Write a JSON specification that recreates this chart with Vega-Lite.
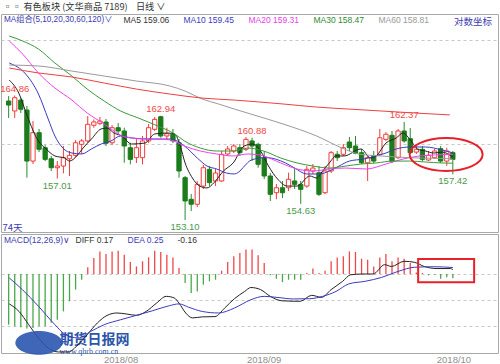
{
"$schema":"https://vega.github.io/schema/vega-lite/v6.json",
"background":"white",
"padding":{"left":0,"right":3,"top":3,"bottom":0},
"title":{"text":"▫▫ 有色板块 (文华商品 7189)\u00a0\u00a0\u00a0\u00a0日线 ∨","anchor":"start","frame":"group","fontSize":9.2,"fontWeight":"normal","color":"#333333","font":"Noto Sans CJK SC","offset":1,"dx":2,"baseline":"top"},
"spacing":0,
"resolve":{"scale":{"color":"independent"},"legend":{"color":"independent"}},
"config":{"view":{"stroke":"#a8a8a8"},"font":"Liberation Sans"},
"datasets":{
"k":[
{"d":0,"o":164.34,"h":164.81,"l":162.74,"c":163.96,"m":-1.95},
{"d":1,"o":163.40,"h":164.86,"l":162.74,"c":164.65,"m":-2.01},
{"d":2,"o":164.43,"h":164.62,"l":163.21,"c":163.56,"m":-2.05},
{"d":3,"o":163.49,"h":163.87,"l":157.10,"c":158.67,"m":-2.10},
{"d":4,"o":158.67,"h":162.45,"l":158.39,"c":161.35,"m":-2.08},
{"d":5,"o":161.35,"h":161.70,"l":159.52,"c":159.78,"m":-2.01},
{"d":6,"o":159.93,"h":160.18,"l":158.67,"c":158.83,"m":-2.01},
{"d":7,"o":158.89,"h":159.15,"l":157.73,"c":158.04,"m":-1.88},
{"d":8,"o":158.04,"h":158.67,"l":157.01,"c":158.20,"m":-1.76},
{"d":9,"o":158.20,"h":160.09,"l":157.51,"c":158.99,"m":-1.44},
{"d":10,"o":158.89,"h":159.62,"l":157.26,"c":159.21,"m":-1.05},
{"d":11,"o":159.21,"h":160.66,"l":159.05,"c":160.40,"m":-0.60},
{"d":12,"o":160.25,"h":160.75,"l":159.34,"c":160.57,"m":-0.22},
{"d":13,"o":160.57,"h":162.92,"l":160.40,"c":162.14,"m":0.26},
{"d":14,"o":162.05,"h":162.61,"l":161.82,"c":162.36,"m":0.62},
{"d":15,"o":162.23,"h":162.83,"l":162.07,"c":162.45,"m":0.87},
{"d":16,"o":162.36,"h":162.64,"l":160.09,"c":160.35,"m":0.77},
{"d":17,"o":160.40,"h":162.07,"l":160.18,"c":161.82,"m":0.87},
{"d":18,"o":161.82,"h":162.26,"l":161.20,"c":161.51,"m":0.90},
{"d":19,"o":161.51,"h":161.82,"l":158.51,"c":160.09,"m":0.74},
{"d":20,"o":159.93,"h":160.40,"l":158.36,"c":158.83,"m":0.46},
{"d":21,"o":158.99,"h":160.75,"l":158.49,"c":159.93,"m":0.29},
{"d":22,"o":158.99,"h":161.04,"l":158.36,"c":160.57,"m":0.49},
{"d":23,"o":160.57,"h":162.17,"l":160.37,"c":161.82,"m":0.64},
{"d":24,"o":161.67,"h":162.83,"l":161.51,"c":162.61,"m":0.90},
{"d":25,"o":162.86,"h":162.94,"l":160.87,"c":161.04,"m":0.85},
{"d":26,"o":161.04,"h":161.82,"l":160.72,"c":161.25,"m":0.74},
{"d":27,"o":161.20,"h":161.70,"l":160.37,"c":160.57,"m":0.64},
{"d":28,"o":160.40,"h":160.75,"l":157.10,"c":157.73,"m":0.23},
{"d":29,"o":157.10,"h":157.26,"l":153.10,"c":154.90,"m":-0.35},
{"d":30,"o":155.06,"h":155.56,"l":153.95,"c":154.59,"m":-0.73},
{"d":31,"o":154.59,"h":156.79,"l":154.33,"c":156.47,"m":-0.67},
{"d":32,"o":156.31,"h":158.30,"l":156.03,"c":158.04,"m":-0.41},
{"d":33,"o":157.89,"h":158.20,"l":156.31,"c":156.63,"m":-0.28},
{"d":34,"o":156.79,"h":157.92,"l":156.31,"c":157.54,"m":-0.22},
{"d":35,"o":156.79,"h":159.62,"l":156.69,"c":159.31,"m":0.13},
{"d":36,"o":159.34,"h":160.09,"l":159.15,"c":159.81,"m":0.46},
{"d":37,"o":159.62,"h":160.28,"l":159.43,"c":160.09,"m":0.68},
{"d":38,"o":159.93,"h":160.28,"l":159.15,"c":159.46,"m":0.81},
{"d":39,"o":159.78,"h":160.94,"l":159.62,"c":160.72,"m":0.94},
{"d":40,"o":160.57,"h":160.88,"l":158.67,"c":160.09,"m":0.94},
{"d":41,"o":160.25,"h":160.40,"l":158.04,"c":158.36,"m":0.72},
{"d":42,"o":158.99,"h":159.62,"l":156.97,"c":157.26,"m":0.42},
{"d":43,"o":157.26,"h":157.54,"l":154.90,"c":155.53,"m":-0.05},
{"d":44,"o":155.68,"h":156.50,"l":155.06,"c":156.15,"m":-0.18},
{"d":45,"o":156.15,"h":156.79,"l":155.18,"c":155.68,"m":-0.31},
{"d":46,"o":156.15,"h":157.57,"l":155.84,"c":156.95,"m":-0.22},
{"d":47,"o":156.79,"h":158.04,"l":156.03,"c":156.47,"m":-0.22},
{"d":48,"o":156.47,"h":156.79,"l":154.63,"c":156.00,"m":-0.22},
{"d":49,"o":156.31,"h":158.20,"l":156.15,"c":157.89,"m":0.04},
{"d":50,"o":157.73,"h":158.39,"l":157.45,"c":158.01,"m":0.21},
{"d":51,"o":157.57,"h":158.20,"l":155.37,"c":155.53,"m":0.04},
{"d":52,"o":155.68,"h":158.20,"l":155.56,"c":157.73,"m":0.13},
{"d":53,"o":157.73,"h":159.62,"l":157.54,"c":159.46,"m":0.49},
{"d":54,"o":159.31,"h":159.62,"l":158.67,"c":158.99,"m":0.64},
{"d":55,"o":159.31,"h":160.28,"l":159.15,"c":159.93,"m":0.68},
{"d":56,"o":160.47,"h":160.94,"l":159.62,"c":159.93,"m":0.87},
{"d":57,"o":160.09,"h":161.04,"l":159.31,"c":159.40,"m":0.85},
{"d":58,"o":159.46,"h":159.81,"l":158.39,"c":158.51,"m":0.59},
{"d":59,"o":158.51,"h":159.15,"l":156.79,"c":158.99,"m":0.55},
{"d":60,"o":159.15,"h":159.62,"l":158.49,"c":158.67,"m":0.29},
{"d":61,"o":159.31,"h":161.70,"l":159.15,"c":160.87,"m":0.64},
{"d":62,"o":160.72,"h":161.41,"l":160.57,"c":161.20,"m":0.77},
{"d":63,"o":161.10,"h":161.51,"l":158.49,"c":158.67,"m":0.49},
{"d":64,"o":158.99,"h":161.70,"l":158.86,"c":161.51,"m":0.64},
{"d":65,"o":161.51,"h":162.37,"l":160.40,"c":160.57,"m":0.59},
{"d":66,"o":160.78,"h":161.79,"l":159.34,"c":159.46,"m":0.42},
{"d":67,"o":159.52,"h":160.09,"l":159.34,"c":159.78,"m":0.06},
{"d":68,"o":159.78,"h":160.09,"l":158.67,"c":158.83,"m":0.04},
{"d":69,"o":158.77,"h":159.62,"l":158.67,"c":159.21,"m":-0.05},
{"d":70,"o":158.99,"h":159.81,"l":158.86,"c":159.62,"m":-0.03},
{"d":71,"o":159.84,"h":160.09,"l":158.49,"c":158.67,"m":-0.18},
{"d":72,"o":158.67,"h":159.93,"l":158.20,"c":159.62,"m":-0.12},
{"d":73,"o":159.46,"h":159.62,"l":157.42,"c":158.83,"m":-0.16}
],
"ma":[
{"s":"MA5","d":0.1,"v":166.32},{"s":"MA5","d":1.66,"v":165.10},{"s":"MA5","d":3.06,"v":162.92},{"s":"MA5","d":4.88,"v":160.56},{"s":"MA5","d":6.0,"v":159.90},{"s":"MA5","d":7.6,"v":159.15},{"s":"MA5","d":9.2,"v":158.96},{"s":"MA5","d":10.0,"v":158.67},{"s":"MA5","d":11.2,"v":159.15},{"s":"MA5","d":12.1,"v":159.81},{"s":"MA5","d":13.6,"v":160.75},{"s":"MA5","d":15.2,"v":161.70},{"s":"MA5","d":16.2,"v":161.79},{"s":"MA5","d":17.3,"v":161.32},{"s":"MA5","d":18.6,"v":161.04},{"s":"MA5","d":20.2,"v":160.28},{"s":"MA5","d":22.4,"v":160.37},{"s":"MA5","d":24.0,"v":161.23},{"s":"MA5","d":26.1,"v":161.32},{"s":"MA5","d":27.3,"v":161.23},{"s":"MA5","d":28.2,"v":160.09},{"s":"MA5","d":29.0,"v":158.49},{"s":"MA5","d":30.2,"v":157.07},{"s":"MA5","d":31.4,"v":156.31},{"s":"MA5","d":32.6,"v":156.13},{"s":"MA5","d":33.7,"v":156.60},{"s":"MA5","d":35.3,"v":157.73},{"s":"MA5","d":36.9,"v":158.49},{"s":"MA5","d":38.7,"v":160.09},{"s":"MA5","d":40.1,"v":160.28},{"s":"MA5","d":41.4,"v":159.62},{"s":"MA5","d":42.7,"v":158.20},{"s":"MA5","d":44.2,"v":156.97},{"s":"MA5","d":45.8,"v":156.31},{"s":"MA5","d":47.4,"v":156.31},{"s":"MA5","d":49.5,"v":157.26},{"s":"MA5","d":50.6,"v":157.07},{"s":"MA5","d":51.6,"v":157.73},{"s":"MA5","d":52.7,"v":158.49},{"s":"MA5","d":53.8,"v":159.15},{"s":"MA5","d":55.1,"v":159.15},{"s":"MA5","d":57.9,"v":159.81},{"s":"MA5","d":59.5,"v":158.96},{"s":"MA5","d":60.4,"v":159.15},{"s":"MA5","d":62.0,"v":160.37},{"s":"MA5","d":63.7,"v":160.85},{"s":"MA5","d":64.8,"v":161.32},{"s":"MA5","d":65.9,"v":160.75},{"s":"MA5","d":67.2,"v":159.81},{"s":"MA5","d":68.5,"v":159.62},{"s":"MA5","d":69.9,"v":159.43},{"s":"MA5","d":71.2,"v":159.52},{"s":"MA5","d":73,"v":159.06},
{"s":"MA10","d":0.1,"v":167.93},{"s":"MA10","d":2.8,"v":166.89},{"s":"MA10","d":4.9,"v":165.00},{"s":"MA10","d":6.5,"v":162.64},{"s":"MA10","d":7.6,"v":161.04},{"s":"MA10","d":8.9,"v":159.90},{"s":"MA10","d":10.4,"v":159.43},{"s":"MA10","d":12.0,"v":159.34},{"s":"MA10","d":13.6,"v":159.81},{"s":"MA10","d":15.2,"v":160.28},{"s":"MA10","d":16.8,"v":160.56},{"s":"MA10","d":18.4,"v":161.04},{"s":"MA10","d":20.2,"v":160.85},{"s":"MA10","d":23.4,"v":160.75},{"s":"MA10","d":26.6,"v":160.75},{"s":"MA10","d":28.9,"v":160.09},{"s":"MA10","d":31.0,"v":158.96},{"s":"MA10","d":32.6,"v":158.20},{"s":"MA10","d":34.2,"v":157.92},{"s":"MA10","d":35.8,"v":157.54},{"s":"MA10","d":37.1,"v":157.45},{"s":"MA10","d":40.0,"v":158.80},{"s":"MA10","d":42.3,"v":159.0},{"s":"MA10","d":45.5,"v":158.49},{"s":"MA10","d":47.0,"v":158.01},{"s":"MA10","d":49.0,"v":157.45},{"s":"MA10","d":51.1,"v":157.45},{"s":"MA10","d":52.7,"v":157.73},{"s":"MA10","d":54.3,"v":158.20},{"s":"MA10","d":56.0,"v":158.67},{"s":"MA10","d":58.3,"v":158.86},{"s":"MA10","d":60.4,"v":159.15},{"s":"MA10","d":62.0,"v":159.43},{"s":"MA10","d":63.7,"v":159.81},{"s":"MA10","d":66.0,"v":160.0},{"s":"MA10","d":68.5,"v":160.0},{"s":"MA10","d":71.2,"v":159.72},{"s":"MA10","d":73,"v":159.45},
{"s":"MA20","d":0.1,"v":170.01},{"s":"MA20","d":2.3,"v":168.78},{"s":"MA20","d":4.9,"v":166.99},{"s":"MA20","d":7.6,"v":165.57},{"s":"MA20","d":10.4,"v":164.43},{"s":"MA20","d":12.9,"v":163.21},{"s":"MA20","d":15.7,"v":162.17},{"s":"MA20","d":17.3,"v":161.51},{"s":"MA20","d":18.6,"v":161.04},{"s":"MA20","d":20.2,"v":160.85},{"s":"MA20","d":22.4,"v":160.75},{"s":"MA20","d":24.5,"v":160.75},{"s":"MA20","d":26.6,"v":160.66},{"s":"MA20","d":28.9,"v":160.09},{"s":"MA20","d":31.5,"v":159.62},{"s":"MA20","d":34.2,"v":159.34},{"s":"MA20","d":36.9,"v":159.15},{"s":"MA20","d":39.3,"v":159.34},{"s":"MA20","d":41.9,"v":159.15},{"s":"MA20","d":44.7,"v":158.49},{"s":"MA20","d":47.4,"v":157.92},{"s":"MA20","d":50.0,"v":157.73},{"s":"MA20","d":52.7,"v":157.92},{"s":"MA20","d":55.4,"v":158.01},{"s":"MA20","d":58.8,"v":157.92},{"s":"MA20","d":62.0,"v":158.39},{"s":"MA20","d":64.8,"v":158.86},{"s":"MA20","d":67.5,"v":159.15},{"s":"MA20","d":70.1,"v":159.25},{"s":"MA20","d":73,"v":159.31},
{"s":"MA30","d":0.1,"v":170.48},{"s":"MA30","d":2.3,"v":170.01},{"s":"MA30","d":4.9,"v":169.25},{"s":"MA30","d":7.6,"v":167.93},{"s":"MA30","d":10.4,"v":166.70},{"s":"MA30","d":12.9,"v":165.47},{"s":"MA30","d":15.7,"v":164.34},{"s":"MA30","d":18.4,"v":163.40},{"s":"MA30","d":21.3,"v":162.74},{"s":"MA30","d":24.5,"v":161.98},{"s":"MA30","d":27.3,"v":161.23},{"s":"MA30","d":28.9,"v":160.56},{"s":"MA30","d":31.5,"v":159.90},{"s":"MA30","d":34.2,"v":159.62},{"s":"MA30","d":37.1,"v":159.62},{"s":"MA30","d":39.3,"v":159.90},{"s":"MA30","d":41.9,"v":159.62},{"s":"MA30","d":44.7,"v":158.96},{"s":"MA30","d":47.4,"v":158.49},{"s":"MA30","d":50.0,"v":158.20},{"s":"MA30","d":52.7,"v":158.01},{"s":"MA30","d":55.4,"v":158.20},{"s":"MA30","d":57.9,"v":158.39},{"s":"MA30","d":60.4,"v":158.49},{"s":"MA30","d":63.2,"v":158.67},{"s":"MA30","d":65.9,"v":158.67},{"s":"MA30","d":68.5,"v":158.58},{"s":"MA30","d":71.2,"v":158.49},{"s":"MA30","d":73,"v":158.47},
{"s":"MA60","d":0.1,"v":167.74},{"s":"MA60","d":4.9,"v":167.65},{"s":"MA60","d":10.4,"v":167.17},{"s":"MA60","d":15.7,"v":166.70},{"s":"MA60","d":21.0,"v":166.23},{"s":"MA60","d":26.5,"v":165.76},{"s":"MA60","d":29.0,"v":165.28},{"s":"MA60","d":31.8,"v":164.53},{"s":"MA60","d":34.5,"v":164.06},{"s":"MA60","d":37.1,"v":163.58},{"s":"MA60","d":39.8,"v":163.11},{"s":"MA60","d":45.1,"v":162.17},{"s":"MA60","d":50.6,"v":161.04},{"s":"MA60","d":54.8,"v":159.90},{"s":"MA60","d":57.5,"v":159.34},{"s":"MA60","d":61.2,"v":159.15},{"s":"MA60","d":67.2,"v":158.96},{"s":"MA60","d":72.0,"v":158.91},{"s":"MA60","d":73,"v":158.81},
{"s":"MA120","d":0.1,"v":167.46},{"s":"MA120","d":4.9,"v":166.99},{"s":"MA120","d":10.4,"v":166.61},{"s":"MA120","d":15.7,"v":166.04},{"s":"MA120","d":21.0,"v":165.47},{"s":"MA120","d":26.5,"v":165.00},{"s":"MA120","d":31.8,"v":164.62},{"s":"MA120","d":37.1,"v":164.43},{"s":"MA120","d":45.1,"v":164.06},{"s":"MA120","d":50.6,"v":163.77},{"s":"MA120","d":55.9,"v":163.58},{"s":"MA120","d":61.2,"v":163.40},{"s":"MA120","d":66.7,"v":163.21},{"s":"MA120","d":72.5,"v":163.03}
],
"mc":[
{"s":"DIFF","d":0.1,"v":-1.15},{"s":"DIFF","d":1.7,"v":-1.44},{"s":"DIFF","d":3.3,"v":-1.95},{"s":"DIFF","d":4.9,"v":-2.46},{"s":"DIFF","d":6.5,"v":-2.85},{"s":"DIFF","d":8.2,"v":-3.0},{"s":"DIFF","d":9.8,"v":-3.0},{"s":"DIFF","d":11.4,"v":-2.72},{"s":"DIFF","d":13.0,"v":-2.31},{"s":"DIFF","d":14.6,"v":-1.88},{"s":"DIFF","d":16.2,"v":-1.59},{"s":"DIFF","d":17.8,"v":-1.50},{"s":"DIFF","d":19.4,"v":-1.54},{"s":"DIFF","d":21.0,"v":-1.59},{"s":"DIFF","d":22.6,"v":-1.44},{"s":"DIFF","d":24.3,"v":-1.12},{"s":"DIFF","d":25.9,"v":-0.86},{"s":"DIFF","d":27.2,"v":-0.92},{"s":"DIFF","d":28.0,"v":-1.12},{"s":"DIFF","d":29.1,"v":-1.50},{"s":"DIFF","d":30.2,"v":-1.69},{"s":"DIFF","d":31.8,"v":-1.65},{"s":"DIFF","d":33.9,"v":-1.64},{"s":"DIFF","d":35.5,"v":-1.31},{"s":"DIFF","d":37.1,"v":-0.95},{"s":"DIFF","d":38.8,"v":-0.67},{"s":"DIFF","d":39.8,"v":-0.52},{"s":"DIFF","d":41.4,"v":-0.60},{"s":"DIFF","d":43.0,"v":-0.86},{"s":"DIFF","d":44.9,"v":-1.03},{"s":"DIFF","d":47.9,"v":-1.05},{"s":"DIFF","d":49.8,"v":-0.82},{"s":"DIFF","d":51.4,"v":-0.90},{"s":"DIFF","d":53.0,"v":-0.60},{"s":"DIFF","d":54.9,"v":-0.28},{"s":"DIFF","d":56.2,"v":-0.03},{"s":"DIFF","d":58.1,"v":0.0},{"s":"DIFF","d":59.9,"v":0.0},{"s":"DIFF","d":61.8,"v":0.36},{"s":"DIFF","d":62.9,"v":0.29},{"s":"DIFF","d":65.0,"v":0.49},{"s":"DIFF","d":66.7,"v":0.45},{"s":"DIFF","d":68.3,"v":0.29},{"s":"DIFF","d":70.4,"v":0.21},{"s":"DIFF","d":72.6,"v":0.21},{"s":"DIFF","d":73,"v":0.17},
{"s":"DEA","d":0.1,"v":-0.15},{"s":"DEA","d":2.25,"v":-0.60},{"s":"DEA","d":4.9,"v":-1.24},{"s":"DEA","d":7.6,"v":-1.95},{"s":"DEA","d":9.2,"v":-2.31},{"s":"DEA","d":11.4,"v":-2.46},{"s":"DEA","d":13.5,"v":-2.21},{"s":"DEA","d":15.7,"v":-1.95},{"s":"DEA","d":18.4,"v":-1.76},{"s":"DEA","d":21.0,"v":-1.59},{"s":"DEA","d":23.7,"v":-1.41},{"s":"DEA","d":26.4,"v":-1.22},{"s":"DEA","d":28.0,"v":-1.15},{"s":"DEA","d":29.6,"v":-1.28},{"s":"DEA","d":31.8,"v":-1.44},{"s":"DEA","d":34.5,"v":-1.50},{"s":"DEA","d":37.1,"v":-1.31},{"s":"DEA","d":39.8,"v":-0.99},{"s":"DEA","d":42.0,"v":-0.86},{"s":"DEA","d":44.1,"v":-0.90},{"s":"DEA","d":46.8,"v":-0.96},{"s":"DEA","d":49.5,"v":-0.95},{"s":"DEA","d":51.6,"v":-0.86},{"s":"DEA","d":53.8,"v":-0.67},{"s":"DEA","d":55.9,"v":-0.38},{"s":"DEA","d":58.6,"v":-0.28},{"s":"DEA","d":61.3,"v":-0.13},{"s":"DEA","d":64.0,"v":0.10},{"s":"DEA","d":66.7,"v":0.26},{"s":"DEA","d":69.9,"v":0.28},{"s":"DEA","d":73,"v":0.25}
],
"hl":[
{"d":1,"p":164.86,"k":"h"},{"d":25,"p":162.94,"k":"h"},{"d":40,"p":160.88,"k":"h"},{"d":65,"p":162.37,"k":"h"},
{"d":8,"p":157.01,"k":"l"},{"d":29,"p":153.10,"k":"l"},{"d":48,"p":154.63,"k":"l"},{"d":73,"p":157.42,"k":"l"}
],
"note":[
{"k":"ellipse","d":71.9,"v":159.29},
{"k":"box","d":67.3,"d2":76.5,"v":0.58,"v2":-0.32},
{"k":"logo","d":4.96,"v":-2.65}
]
},
"vconcat":[
{
"width":497,"height":218,
"title":{"text":"对数坐标","anchor":"end","orient":"top","offset":-12,"dx":-6,"fontSize":9.5,"fontWeight":"normal","color":"#3b3bb0","font":"Noto Sans CJK SC"},
"layer":[
{"data":{"name":"k"},"mark":{"type":"rule","strokeWidth":1},
 "encoding":{
  "x":{"field":"d","type":"quantitative","scale":{"domain":[-0.435,79.6],"nice":false,"zero":false},
   "axis":{"labels":false,"ticks":false,"domain":false,"grid":false,"title":"74天","titleX":1,"titleY":-5,"titleAlign":"left","titleAnchor":"start","titleBaseline":"middle","titleFontSize":9.5,"titleFontWeight":"normal","titleColor":"#3b3bb0","titleFont":"Noto Sans CJK SC"}},
  "y":{"field":"l","type":"quantitative","scale":{"domain":[151.97,172.56],"nice":false,"zero":false},
   "axis":{"values":[160.28,170.1],"grid":true,"gridDash":[3,3],"gridColor":"#c8c8c8","labels":false,"ticks":false,"domain":false,"title":null}},
  "y2":{"field":"h"},
  "color":{"condition":{"test":"datum.c>=datum.o","value":"#f03c3c"},"value":"#2a8a2a"}}},
{"data":{"name":"k"},"mark":{"type":"bar","width":4.3,"strokeWidth":1},
 "encoding":{
  "x":{"field":"d","type":"quantitative","scale":{"domain":[-0.435,79.6],"nice":false,"zero":false}},
  "y":{"field":"o","type":"quantitative","scale":{"domain":[151.97,172.56],"nice":false,"zero":false}},
  "y2":{"field":"c"},
  "fill":{"condition":{"test":"datum.c>=datum.o","value":"#ffffff"},"value":"#1c7c1c"},
  "stroke":{"condition":{"test":"datum.c>=datum.o","value":"#f03c3c"},"value":"#1c7c1c"}}},
{"data":{"name":"ma"},"mark":{"type":"line","strokeWidth":1,"interpolate":"monotone"},
 "encoding":{
  "x":{"field":"d","type":"quantitative","scale":{"domain":[-0.435,79.6],"nice":false,"zero":false}},
  "y":{"field":"v","type":"quantitative","scale":{"domain":[151.97,172.56],"nice":false,"zero":false}},
  "color":{"field":"s","type":"nominal","scale":{"domain":["MA5","MA10","MA20","MA30","MA60","MA120"],"range":["#222222","#3b3bc0","#f040f0","#3a9a3a","#9a9a9a","#ee4040"]},
   "legend":{"orient":"none","legendX":3,"legendY":2,"direction":"horizontal","values":["MA5","MA10","MA20","MA30","MA60"],
    "title":"MA组合(5,10,20,30,60,120)∨","titleOrient":"left","titleFontSize":8.2,"titleFontWeight":"normal","titleColor":"#3b3bb0","titleFont":"Liberation Sans, Noto Sans CJK SC","titlePadding":2,
    "labelExpr":"datum.value=='MA5'?'MA5 159.06':datum.value=='MA10'?'MA10 159.45':datum.value=='MA20'?'MA20 159.31':datum.value=='MA30'?'MA30 158.47':'MA60 158.81'",
    "labelColor":{"expr":"datum.value=='MA10'?'#3b3bc0':datum.value=='MA20'?'#e83ee8':datum.value=='MA30'?'#2e8b2e':datum.value=='MA60'?'#999999':'#333333'"},
    "labelFontSize":8.5,"labelFont":"Liberation Sans","symbolSize":0,"symbolStrokeWidth":0,"symbolOpacity":0,"labelOffset":0,"columnPadding":5}}}},
{"data":{"name":"hl"},"transform":[{"filter":"datum.k=='h'"}],"mark":{"type":"text","dy":-7,"fontSize":9.5,"color":"#f04848","clip":true},
 "encoding":{
  "x":{"field":"d","type":"quantitative","scale":{"domain":[-0.435,79.6],"nice":false,"zero":false}},
  "y":{"field":"p","type":"quantitative","scale":{"domain":[151.97,172.56],"nice":false,"zero":false}},
  "text":{"field":"p","type":"quantitative","format":".2f"}}},
{"data":{"name":"hl"},"transform":[{"filter":"datum.k=='l'"}],"mark":{"type":"text","dy":7,"fontSize":9.5,"color":"#4a9a4a","clip":true},
 "encoding":{
  "x":{"field":"d","type":"quantitative","scale":{"domain":[-0.435,79.6],"nice":false,"zero":false}},
  "y":{"field":"p","type":"quantitative","scale":{"domain":[151.97,172.56],"nice":false,"zero":false}},
  "text":{"field":"p","type":"quantitative","format":".2f"}}},
{"data":{"name":"note"},"transform":[{"filter":"datum.k=='ellipse'"}],"mark":{"type":"point","shape":"M-1,0A1,0.45,0,1,0,1,0A1,0.45,0,1,0,-1,0Z","size":5329,"filled":false,"stroke":"#e8202a","strokeWidth":2,"opacity":1},
 "encoding":{
  "x":{"field":"d","type":"quantitative","scale":{"domain":[-0.435,79.6],"nice":false,"zero":false}},
  "y":{"field":"v","type":"quantitative","scale":{"domain":[151.97,172.56],"nice":false,"zero":false}}}}
]
},
{
"width":497,"height":119,
"layer":[
{"data":{"name":"k"},"mark":{"type":"bar","width":1.3},
 "encoding":{
  "x":{"field":"d","type":"quantitative","scale":{"domain":[-0.435,79.6],"nice":false,"zero":false},
   "axis":{"values":[18.4,41.9,73.1],"labelExpr":"datum.value<30?'2018/08':datum.value<60?'2018/09':'2018/10'","labelColor":"#909090","labelFontSize":9.5,"labelPadding":1,"labelFlush":false,"labelOverlap":false,"ticks":false,"domain":false,"grid":false,
    "title":"期货日报网","titleX":58,"titleY":-14,"titleAlign":"left","titleAnchor":"start","titleBaseline":"middle","titleFontSize":14,"titleFontWeight":"bold","titleColor":"#2b55a8","titleFont":"Noto Sans CJK SC"}},
  "y":{"field":"m","type":"quantitative","scale":{"domain":[-3.04,1.54],"nice":false,"zero":false},
   "axis":{"values":[0,-1,-2],"grid":true,"gridDash":[3,3],"gridColor":"#c8c8c8","labels":false,"ticks":false,"domain":false,
    "title":"www.qhrb.com.cn","titleAngle":0,"titleX":58,"titleY":117,"titleAlign":"left","titleBaseline":"middle","titleFontSize":8,"titleFontWeight":"normal","titleColor":"#2b55a8","titleFont":"Liberation Serif"}},
  "color":{"condition":{"test":"datum.m>=0","value":"#f04848"},"value":"#4aa84a"}}},
{"data":{"name":"mc"},"mark":{"type":"line","strokeWidth":1,"interpolate":"monotone"},
 "encoding":{
  "x":{"field":"d","type":"quantitative","scale":{"domain":[-0.435,79.6],"nice":false,"zero":false}},
  "y":{"field":"v","type":"quantitative","scale":{"domain":[-3.04,1.54],"nice":false,"zero":false}},
  "color":{"field":"s","type":"nominal","scale":{"domain":["DIFF","DEA","MACD"],"range":["#222222","#3b3bc0","#222222"]},
   "legend":{"orient":"none","legendX":3,"legendY":2,"direction":"horizontal",
    "title":"MACD(12,26,9)∨","titleOrient":"left","titleFontSize":8.5,"titleFontWeight":"normal","titleColor":"#3b3bb0","titleFont":"Liberation Sans","titlePadding":-4,
    "labelExpr":"datum.value=='DIFF'?'DIFF 0.17':datum.value=='DEA'?'DEA 0.25':'-0.16'",
    "labelColor":{"expr":"datum.value=='DEA'?'#3b3bc0':'#333333'"},
    "labelFontSize":8.5,"labelFont":"Liberation Sans","symbolSize":0,"symbolStrokeWidth":0,"symbolOpacity":0,"labelOffset":0,"columnPadding":5}}}},
{"data":{"name":"note"},"transform":[{"filter":"datum.k=='box'"}],"mark":{"type":"rect","fillOpacity":0,"stroke":"#e8202a","strokeWidth":2},
 "encoding":{
  "x":{"field":"d","type":"quantitative","scale":{"domain":[-0.435,79.6],"nice":false,"zero":false}},
  "x2":{"field":"d2"},
  "y":{"field":"v","type":"quantitative","scale":{"domain":[-3.04,1.54],"nice":false,"zero":false}},
  "y2":{"field":"v2"}}},
{"data":{"name":"note"},"transform":[{"filter":"datum.k=='logo'"}],"mark":{"type":"point","shape":"M-1,0A1,0.51,0,1,0,1,0A1,0.51,0,1,0,-1,0Z","size":2209,"filled":true,"fill":"#2b55b0","opacity":0.9},
 "encoding":{
  "x":{"field":"d","type":"quantitative","scale":{"domain":[-0.435,79.6],"nice":false,"zero":false}},
  "y":{"field":"v","type":"quantitative","scale":{"domain":[-3.04,1.54],"nice":false,"zero":false}}}}
]
}
]
}
